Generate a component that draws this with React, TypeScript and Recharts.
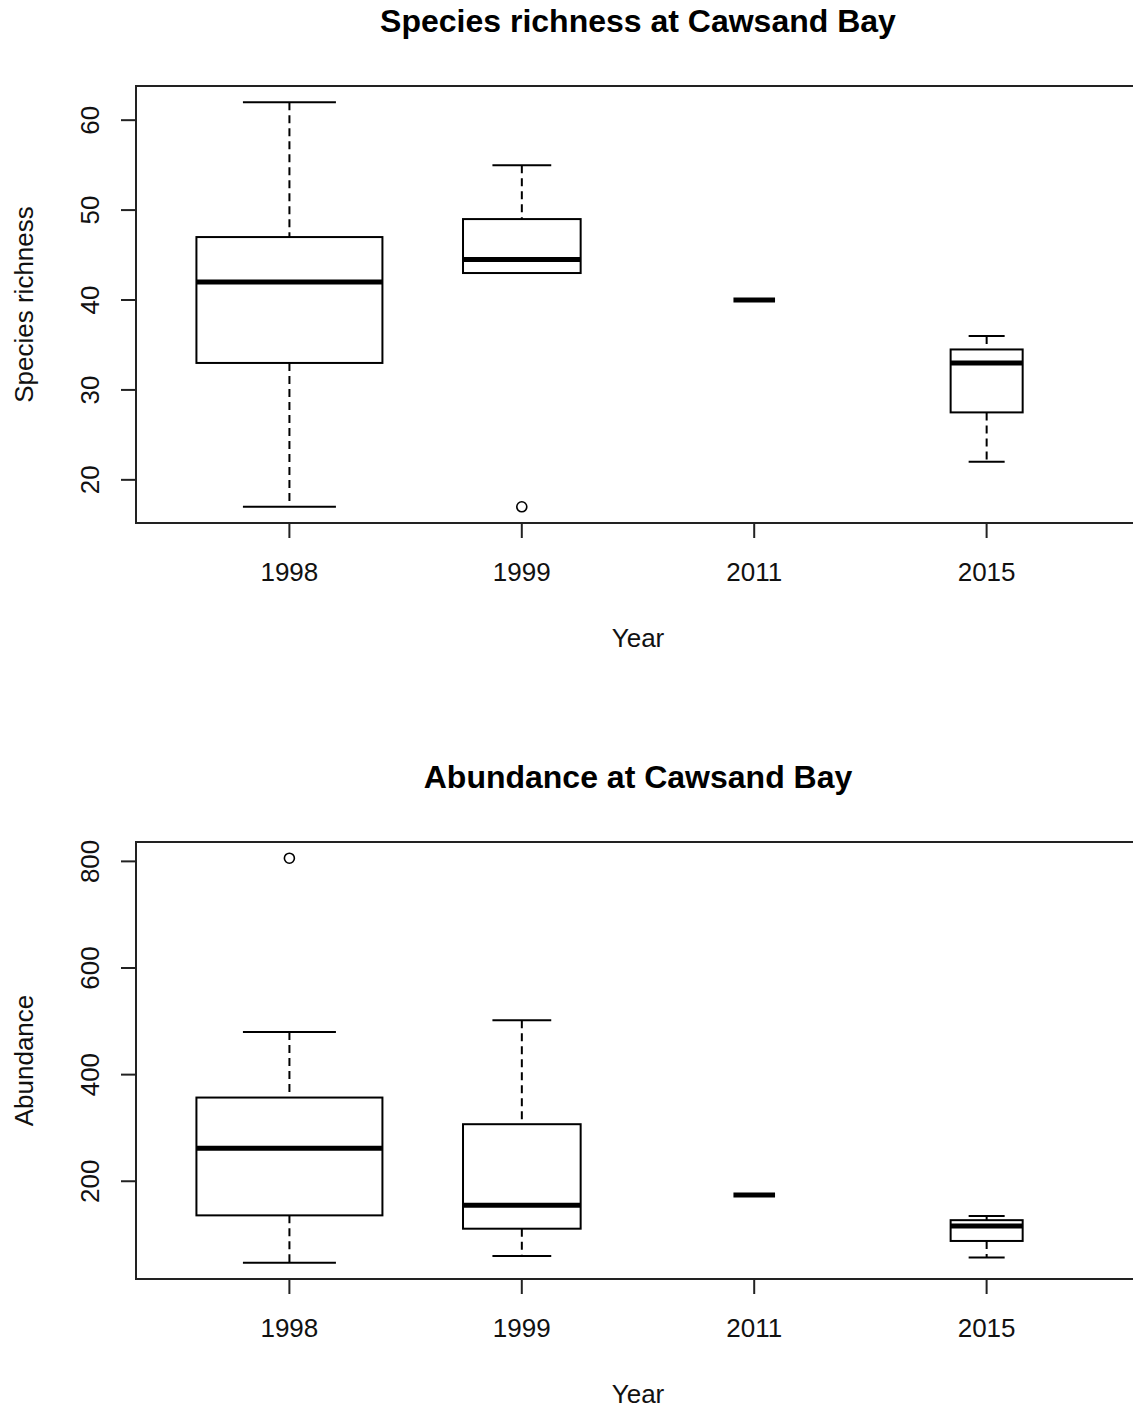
import { ComposedChart, Bar, Scatter, XAxis, YAxis, ReferenceArea } from 'recharts';

const years = ['1998', '1999', '2011', '2015'];
const counts = [20, 8, 1, 3];

const richLo = [17, 43, 40, 22];
const richQ1 = [33, 43, 40, 27.5];
const richMed = [42, 44.5, 40, 33];
const richQ3 = [47, 49, 40, 34.5];
const richHi = [62, 55, 40, 36];
const richOutYear = [2];
const richOutVal = [17];
const richTicks = [20, 30, 40, 50, 60];

const abLo = [47, 60, 174, 57];
const abQ1 = [136, 111, 174, 88];
const abMed = [262, 155, 174, 116];
const abQ3 = [357, 307, 174, 127];
const abHi = [480, 502, 174, 135];
const abOutYear = [1];
const abOutVal = [806];
const abTicks = [200, 400, 600, 800];

const FONT = "'Liberation Sans', Arial, sans-serif";
const INK = '#111';
const maxCount = Math.max(...counts);

// R-style axis limits: pad the range by 4% on each side
const padRange = (lo: number, hi: number): [number, number] => {
  const d = (hi - lo) * 0.04;
  return [lo - d, hi + d];
};
const xDomain = padRange(0.5, years.length + 0.5);

function BoxShape(props: any) {
  const { x, y, width, height, payload } = props;
  if (x == null || y == null || !payload) return null;
  const top = Math.min(y, y + height);
  const bottom = Math.max(y, y + height);
  const { lo, q1, med, q3, hi, n } = payload;
  const span = hi - lo;
  const py = (v: number) => (span === 0 ? top : bottom - ((bottom - top) * (v - lo)) / span);
  const cx = x + width / 2;
  const bw = width * Math.sqrt(n / maxCount);
  const half = bw / 2;
  const st = bw / 4;
  const line = { stroke: '#000', strokeWidth: 2 };
  return (
    <g>
      <line x1={cx} x2={cx} y1={py(hi)} y2={py(q3)} {...line} strokeDasharray="8 5" />
      <line x1={cx} x2={cx} y1={py(q1)} y2={py(lo)} {...line} strokeDasharray="8 5" />
      <line x1={cx - st} x2={cx + st} y1={py(hi)} y2={py(hi)} {...line} />
      <line x1={cx - st} x2={cx + st} y1={py(lo)} y2={py(lo)} {...line} />
      <rect x={cx - half} y={py(q3)} width={bw} height={py(q1) - py(q3)} fill="#fff" {...line} />
      <line x1={cx - half} x2={cx + half} y1={py(med)} y2={py(med)} stroke="#000" strokeWidth={5} />
    </g>
  );
}

const Outlier = (props: any) => (
  <circle cx={props.cx} cy={props.cy} r={5} fill="none" stroke="#000" strokeWidth={1.6} />
);

const XTick = ({ x, y, payload }: any) => (
  <text x={x} y={y} textAnchor="middle" fontSize={26} fontFamily={FONT} fill={INK}>
    {years[payload.value - 1]}
  </text>
);

const YTick = ({ x, y, payload }: any) => (
  <text
    x={x}
    y={y}
    transform={`rotate(-90, ${x}, ${y})`}
    textAnchor="middle"
    fontSize={26}
    fontFamily={FONT}
    fill={INK}
  >
    {payload.value}
  </text>
);

interface PanelProps {
  title: string;
  yLabel: string;
  lo: number[];
  q1: number[];
  med: number[];
  q3: number[];
  hi: number[];
  outYear: number[];
  outVal: number[];
  ticks: number[];
  top: number;
}

function Panel({ title, yLabel, lo, q1, med, q3, hi, outYear, outVal, ticks, top }: PanelProps) {
  const data = years.map((_, i) => ({
    x: i + 1,
    range: [lo[i], hi[i]],
    lo: lo[i],
    q1: q1[i],
    med: med[i],
    q3: q3[i],
    hi: hi[i],
    n: counts[i],
  }));
  const outliers = outYear.map((yr, i) => ({ x: yr, v: outVal[i] }));
  const all = [...lo, ...hi, ...outVal];
  const yDomain = padRange(Math.min(...all), Math.max(...all));

  return (
    <div style={{ position: 'absolute', left: 0, top, width: 1150, height: 756 }}>
      <div
        style={{
          position: 'absolute',
          left: 136,
          top: 5,
          width: 1004,
          textAlign: 'center',
          fontFamily: FONT,
          fontWeight: 'bold',
          fontSize: 32,
          lineHeight: '32px',
          color: '#000',
        }}
      >
        {title}
      </div>
      <ComposedChart
        width={1150}
        height={756}
        data={data}
        margin={{ top: 86, right: 10, bottom: 232, left: 135 }}
      >
        <XAxis
          dataKey="x"
          type="number"
          domain={xDomain}
          allowDataOverflow
          ticks={[1, 2, 3, 4]}
          height={1}
          axisLine={false}
          tickSize={15}
          tickMargin={43}
          tickLine={{ stroke: '#222', strokeWidth: 2 }}
          tick={<XTick />}
          label={(p: any) => {
            const vb = p.viewBox;
            return (
              <text
                x={vb.x + vb.width / 2}
                y={vb.y + 124}
                textAnchor="middle"
                fontSize={26}
                fontFamily={FONT}
                fill={INK}
              >
                Year
              </text>
            );
          }}
        />
        <YAxis
          type="number"
          domain={yDomain}
          allowDataOverflow
          ticks={ticks}
          width={1}
          axisLine={false}
          tickSize={15}
          tickMargin={22}
          tickLine={{ stroke: '#222', strokeWidth: 2 }}
          tick={<YTick />}
          label={(p: any) => {
            const vb = p.viewBox;
            const lx = vb.x + vb.width - 103;
            const ly = vb.y + vb.height / 2;
            return (
              <text
                x={lx}
                y={ly}
                transform={`rotate(-90, ${lx}, ${ly})`}
                textAnchor="middle"
                fontSize={26}
                fontFamily={FONT}
                fill={INK}
              >
                {yLabel}
              </text>
            );
          }}
        />
        <ReferenceArea
          x1={xDomain[0]}
          x2={xDomain[1]}
          y1={yDomain[0]}
          y2={yDomain[1]}
          fill="none"
          fillOpacity={0}
          stroke="#222"
          strokeWidth={2}
        />
        <Bar dataKey="range" shape={<BoxShape />} isAnimationActive={false} />
        <Scatter data={outliers} dataKey="v" shape={<Outlier />} isAnimationActive={false} />
      </ComposedChart>
    </div>
  );
}

export default function App() {
  return (
    <div
      style={{
        position: 'absolute',
        left: 0,
        top: 0,
        width: 1133,
        height: 1409,
        overflow: 'hidden',
        background: '#fff',
      }}
    >
      <Panel
        title="Species richness at Cawsand Bay"
        yLabel="Species richness"
        lo={richLo}
        q1={richQ1}
        med={richMed}
        q3={richQ3}
        hi={richHi}
        outYear={richOutYear}
        outVal={richOutVal}
        ticks={richTicks}
        top={0}
      />
      <Panel
        title="Abundance at Cawsand Bay"
        yLabel="Abundance"
        lo={abLo}
        q1={abQ1}
        med={abMed}
        q3={abQ3}
        hi={abHi}
        outYear={abOutYear}
        outVal={abOutVal}
        ticks={abTicks}
        top={756}
      />
    </div>
  );
}
